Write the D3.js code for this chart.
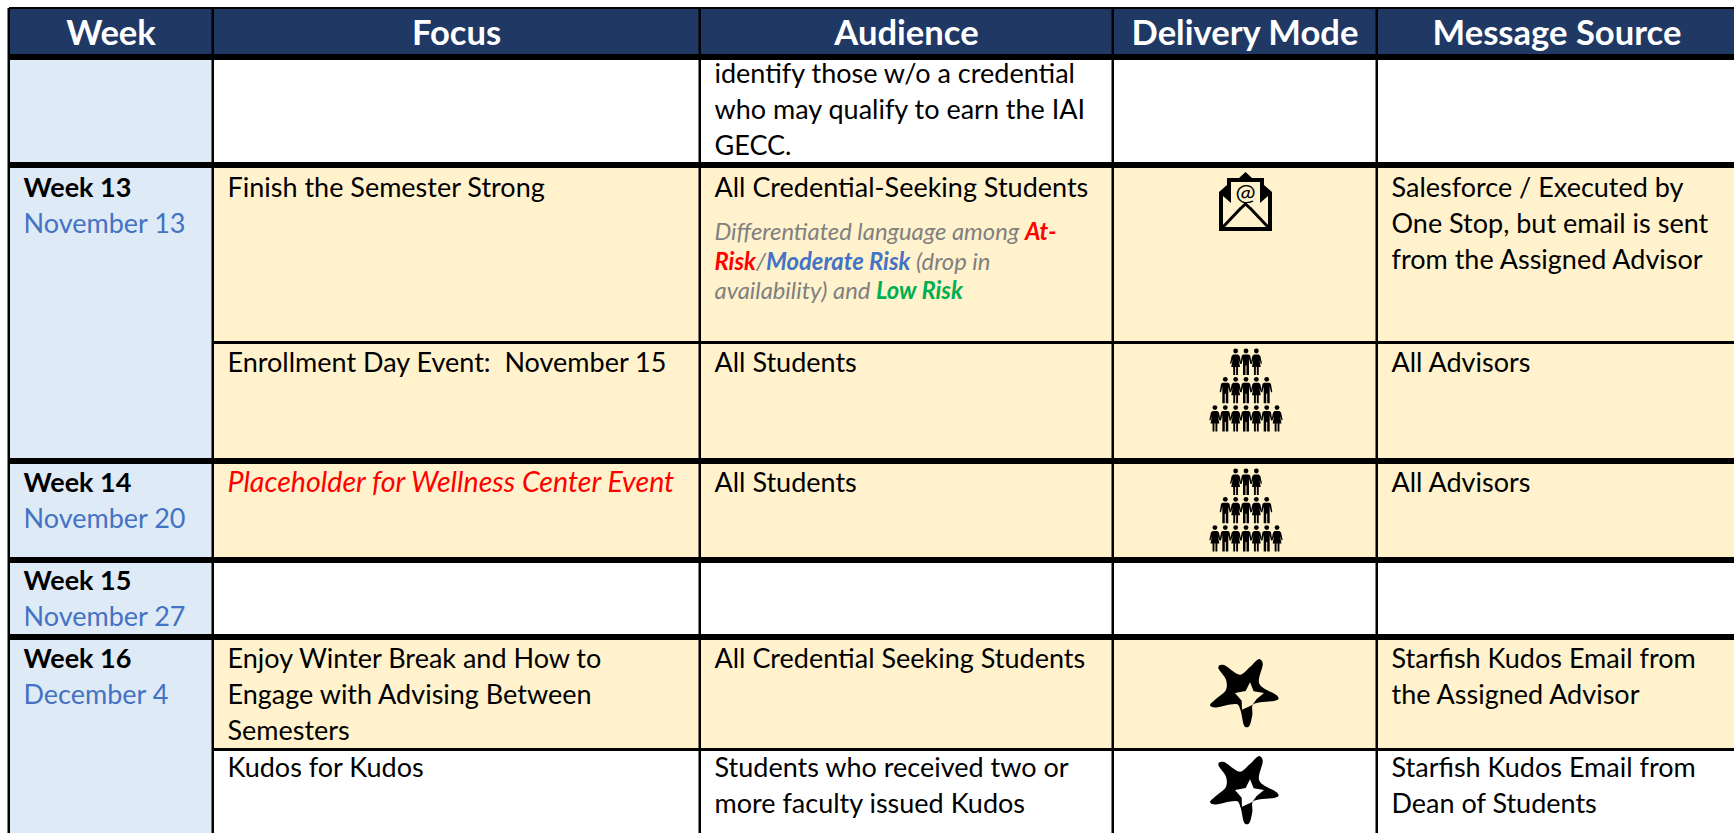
<!DOCTYPE html>
<html>
<head>
<meta charset="utf-8">
<title>Communication plan</title>
<script src="https://cdn.jsdelivr.net/npm/d3@7"></script>
<style>
    html, body { margin: 0; padding: 0; background: #fff; overflow: hidden; }
    text { font-family: Lato, "Open Sans", sans-serif; white-space: pre; }
</style>
</head>
<body>
<div id="chart"></div>
<script>
// table content
var columns = ['Week', 'Focus', 'Audience', 'Delivery Mode', 'Message Source']
var rowKeys = ['r0', 'r1', 'r2', 'r3', 'r4', 'r5', 'r6']
var rowShaded = [false, true, true, true, false, true, false]

var weekRows = ['r0', 'r1', 'r3', 'r4', 'r5']
var weekNames = ['', 'Week 13', 'Week 14', 'Week 15', 'Week 16']
var weekDates = ['', 'November 13', 'November 20', 'November 27', 'December 4']

var focusLines = [
    [],
    ['Finish the Semester Strong'],
    ['Enrollment Day Event:  November 15'],
    ['Placeholder for Wellness Center Event'],
    [],
    ['Enjoy Winter Break and How to', 'Engage with Advising Between', 'Semesters'],
    ['Kudos for Kudos']
]
var audienceLines = [
    ['identify those w/o a credential', 'who may qualify to earn the IAI', 'GECC.'],
    ['All Credential-Seeking Students'],
    ['All Students'],
    ['All Students'],
    [],
    ['All Credential Seeking Students'],
    ['Students who received two or', 'more faculty issued Kudos']
]
var sourceLines = [
    [],
    ['Salesforce / Executed by', 'One Stop, but email is sent', 'from the Assigned Advisor'],
    ['All Advisors'],
    ['All Advisors'],
    [],
    ['Starfish Kudos Email from', 'the Assigned Advisor'],
    ['Starfish Kudos Email from', 'Dean of Students']
]
var deliveryIcons = ['', 'email', 'crowd', 'crowd', '', 'star', 'star']

// risk note under the row 13 audience, [text, kind]
var noteLines = [
    [['Differentiated language among ', 'plain'], ['At-', 'atRisk']],
    [['Risk', 'atRisk'], ['/', 'plain'], ['Moderate Risk', 'modRisk'], [' (drop in', 'plain']],
    [['availability) and ', 'plain'], ['Low Risk', 'lowRisk']]
]

// layout
var W = 1734, H = 833
var colEdges = [9, 213, 700, 1113, 1377]
var rowTops = [60, 168, 344, 464, 563, 640, 751]
var rowBottoms = [162, 341, 458, 557, 634, 748, 833]
var baselineOffsets = [23, 29, 28, 28, 27, 28, 26]
var starCenters = { r5: 693, r6: 790 }
var headerTop = 9, headerBottom = 54
var lineStep = 36, noteStep = 29.5
var padLeft = 14.5
var bodySize = 27

var noteStyle = {
    plain: { fill: '#808080', weight: 400 },
    atRisk: { fill: '#ff0000', weight: 700 },
    modRisk: { fill: '#4472c4', weight: 700 },
    lowRisk: { fill: '#00b050', weight: 700 }
}

var x = d3.scaleOrdinal().domain(columns).range(colEdges)
var top_ = d3.scaleOrdinal().domain(rowKeys).range(rowTops)
var bottom_ = d3.scaleOrdinal().domain(rowKeys).range(rowBottoms)
var baseline = d3.scaleOrdinal().domain(rowKeys).range(baselineOffsets)
var colRight = function (c) {
    var i = columns.indexOf(c)
    return i == columns.length - 1 ? W + 3 : x(columns[i + 1])
}

var svg = d3.select('#chart').append('svg')
    .attr('width', W)
    .attr('height', H)
    .style('display', 'block')

// header
svg.append('rect').attr('x', 9).attr('y', headerTop).attr('width', W).attr('height', headerBottom - headerTop).attr('fill', '#1f3864')
svg.selectAll('.head')
    .data(columns)
    .enter()
    .append('text')
    .attr('class', 'head')
    .attr('x', function (d) { return (x(d) + colRight(d)) / 2 })
    .attr('y', 44.5)
    .attr('text-anchor', 'middle')
    .attr('font-size', 34.6)
    .attr('font-weight', 700)
    .attr('fill', '#fff')
    .text(function (d) { return d })

// row backgrounds (right of the week column)
svg.selectAll('.rowBg')
    .data(rowKeys)
    .enter()
    .append('rect')
    .attr('class', 'rowBg')
    .attr('x', x('Focus'))
    .attr('y', function (d) { return top_(d) })
    .attr('width', W - x('Focus'))
    .attr('height', function (d) { return bottom_(d) - top_(d) })
    .attr('fill', function (d, i) { return rowShaded[i] ? '#fff2cc' : '#fff' })

// week column
svg.append('rect').attr('x', 9).attr('y', rowTops[0]).attr('width', x('Focus') - 9).attr('height', H - rowTops[0]).attr('fill', '#deeaf6')

// rules
var thickLines = [[7, 9], [54, 60], [162, 168], [458, 464], [557, 563], [634, 640]]
var thinLines = [[341, 344], [748, 751]]
svg.selectAll('.thick').data(thickLines).enter().append('rect')
    .attr('x', 9).attr('width', W).attr('y', function (d) { return d[0] }).attr('height', function (d) { return d[1] - d[0] }).attr('fill', '#000')
svg.selectAll('.thin').data(thinLines).enter().append('rect')
    .attr('x', x('Focus')).attr('width', W).attr('y', function (d) { return d[0] }).attr('height', function (d) { return d[1] - d[0] }).attr('fill', '#000')
svg.selectAll('.vert').data(colEdges).enter().append('rect')
    .attr('x', function (d) { return d - 1.5 }).attr('width', 2.5)
    .attr('y', 8).attr('height', H - 8).attr('fill', '#000')

// week labels
weekRows.forEach(function (r, i) {
    var g = svg.append('g').attr('font-size', bodySize)
    g.append('text').attr('x', x('Week') + padLeft).attr('y', top_(r) + baseline(r))
        .attr('font-weight', 700).attr('fill', '#000').text(weekNames[i])
    g.append('text').attr('x', x('Week') + padLeft).attr('y', top_(r) + baseline(r) + lineStep)
        .attr('fill', '#4472c4').text(weekDates[i])
})

function drawLines(col, linesByRow) {
    rowKeys.forEach(function (r, i) {
        var placeholder = col == 'Focus' && r == 'r3'
        svg.append('g').selectAll('text')
            .data(linesByRow[i])
            .enter()
            .append('text')
            .attr('x', x(col) + padLeft)
            .attr('y', function (d, j) { return top_(r) + baseline(r) + j * lineStep })
            .attr('font-size', placeholder ? 28.6 : bodySize)
            .attr('fill', placeholder ? '#ff0000' : '#000')
            .attr('font-style', placeholder ? 'italic' : 'normal')
            .text(function (d) { return d })
    })
}
drawLines('Focus', focusLines)
drawLines('Audience', audienceLines)
drawLines('Message Source', sourceLines)

// risk note
svg.append('g').selectAll('text')
    .data(noteLines)
    .enter()
    .append('text')
    .attr('x', x('Audience') + padLeft)
    .attr('y', function (d, i) { return top_('r1') + 72 + i * noteStep })
    .attr('font-size', 23.8)
    .attr('font-style', 'italic')
    .selectAll('tspan')
    .data(function (d) { return d })
    .enter()
    .append('tspan')
    .attr('fill', function (d) { return noteStyle[d[1]].fill })
    .attr('font-weight', function (d) { return noteStyle[d[1]].weight })
    .text(function (d) { return d[0] })

// delivery icons
var iconX = 1245

function drawEmail(g) {
    g.append('path').attr('d', 'M0,20 L8,13 L8,6 L20,6 L26.5,0 L33,6 L45,6 L45,13 L53,20 L53,59 L0,59 Z').attr('fill', '#000')
    g.append('path').attr('d', 'M12,10 L41,10 L41,36 L26.5,45 L12,36 Z').attr('fill', '#fff2cc')
    g.append('path').attr('d', 'M4,24 L4,55 L49,55 L49,24 L33,38 L26.5,33 L20,38 Z').attr('fill', '#fff2cc')
    g.append('path').attr('d', 'M4,55 L22,36 M49,55 L31,36 M20,38 L26.5,32 L33,38').attr('fill', 'none').attr('stroke', '#000').attr('stroke-width', 3)
    g.append('text').attr('x', 26.5).attr('y', 29).attr('text-anchor', 'middle')
        .attr('font-size', 24).attr('font-weight', 400).attr('fill', '#000').text('@')
}

var malePath = 'M-2.6,6 L2.6,6 L4.2,7 L5.6,15 L4.4,15.6 L3,10 L3,26.5 L0.5,26.5 L0.5,17 L-0.5,17 L-0.5,26.5 L-3,26.5 L-3,10 L-4.4,15.6 L-5.6,15 L-4.2,7 Z'
var femalePath = 'M-2.4,6 L2.4,6 L4,7.5 L5.6,15 L4.6,15.4 L3,11 L4.4,18.4 L2.4,18.4 L2.4,26.5 L0.5,26.5 L0.5,18.4 L-0.5,18.4 L-0.5,26.5 L-2.4,26.5 L-2.4,18.4 L-4.4,18.4 L-3,11 L-4.6,15.4 L-5.6,15 L-4,7.5 Z'
var crowdRows = [3, 5, 7]

function drawCrowd(g) {
    crowdRows.forEach(function (n, ri) {
        d3.range(n).forEach(function (k) {
            var f = g.append('g').attr('transform', 'translate(' + (k - (n - 1) / 2) * 10.35 + ',' + ri * 28.3 + ')')
            f.append('circle').attr('cy', 2.5).attr('r', 2.4).attr('fill', '#000')
            var female = (k + (n == 5 ? 1 : 0)) % 2 == 0
            f.append('path').attr('d', female ? femalePath : malePath).attr('fill', '#000')
        })
    })
}

var starOuter = [[208, 107], [222, 106], [270, 135], [300, 112], [328, 88], [338, 100], [328, 162], [380, 197], [386, 207], [375, 213], [330, 218], [308, 226], [307, 255], [296, 291], [285, 291], [271, 240], [262, 224], [190, 233], [180, 226], [195, 210], [228, 180], [228, 150], [205, 115]]
var starInner = [[300, 158], [311, 185], [342, 190], [320, 208], [307, 226], [276, 240], [275, 213], [255, 190], [287, 184]]
var blob = d3.line().x(function (d) { return (d[0] - 285) / 3 }).y(function (d) { return (d[1] - 190) / 3 }).curve(d3.curveCatmullRomClosed.alpha(0.5))

function drawStar(g, fill) {
    g.append('path').attr('d', blob(starOuter)).attr('fill', '#000')
    g.append('path').attr('d', 'M' + starInner.map(function (d) { return [(d[0] - 285) / 3, (d[1] - 190) / 3] }).join('L') + 'Z').attr('fill', fill)
}

rowKeys.forEach(function (r, i) {
    var kind = deliveryIcons[i]
    if (kind == 'email') {
        drawEmail(svg.append('g').attr('transform', 'translate(' + (iconX - 26) + ',172)'))
    }
    else if (kind == 'crowd') {
        drawCrowd(svg.append('g').attr('transform', 'translate(' + (iconX + 1) + ',' + (top_(r) + 4.5) + ')'))
    }
    else if (kind == 'star') {
        drawStar(svg.append('g').attr('transform', 'translate(' + iconX + ',' + starCenters[r] + ')'), rowShaded[i] ? '#fff2cc' : '#fff')
    }
})
</script>
</body>
</html>
